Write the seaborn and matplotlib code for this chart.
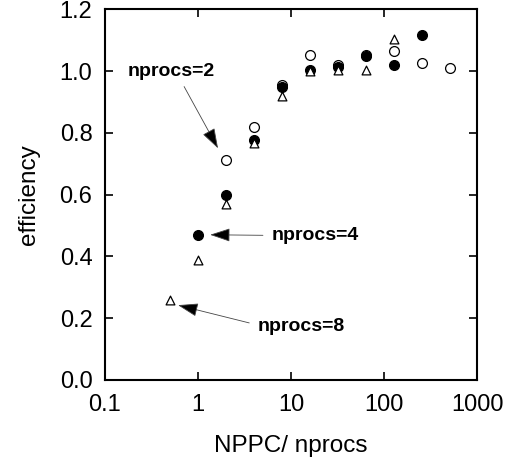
import pandas as pd
import seaborn as sns
import matplotlib
matplotlib.use("Agg")
import matplotlib.pyplot as plt
from matplotlib.ticker import FixedLocator, NullLocator, FixedFormatter

# data
x_np2 = [2, 4, 8, 16, 32, 64, 128, 256, 512]
y_np2 = [0.713, 0.82, 0.955, 1.052, 1.02, 1.052, 1.065, 1.027, 1.01]
x_np4 = [1, 2, 4, 8, 16, 32, 64, 128, 256]
y_np4 = [0.47, 0.60, 0.777, 0.948, 1.005, 1.015, 1.048, 1.021, 1.118]
x_np8 = [0.5, 1, 2, 4, 8, 16, 32, 64, 128]
y_np8 = [0.26, 0.387, 0.57, 0.768, 0.919, 1.0, 1.005, 1.003, 1.103]

x_ticks = [0.1, 1, 10, 100, 1000]
x_ticklabels = ["0.1", "1", "10", "100", "1000"]
y_ticks = [0.0, 0.2, 0.4, 0.6, 0.8, 1.0, 1.2]

sns.set_theme(style="ticks")
plt.rcParams['font.family'] = ['Liberation Sans', 'DejaVu Sans']
plt.rcParams.update({'text.color': 'black', 'axes.labelcolor': 'black',
                     'xtick.color': 'black', 'ytick.color': 'black'})

fig = plt.figure(figsize=(5.12, 4.69), dpi=100)
ax = fig.add_axes([0.205, 0.19, 0.727, 0.79])

series = [
    (x_np2, y_np2, 'o', 'white'),
    (x_np4, y_np4, 'o', 'black'),
    (x_np8, y_np8, '^', 'white'),
]
for xs, ys, mk, fc in series:
    d = pd.DataFrame({'x': xs, 'y': ys})
    sns.scatterplot(data=d, x='x', y='y', marker=mk, s=50 if mk == 'o' else 40,
                    facecolor=fc, edgecolor='black', linewidth=0.9, ax=ax, zorder=3)

ax.set_xscale('log')
ax.set_xlim(0.1, 1000)
ax.set_ylim(0, 1.2)
ax.xaxis.set_major_locator(FixedLocator(x_ticks))
ax.xaxis.set_major_formatter(FixedFormatter(x_ticklabels))
ax.xaxis.set_minor_locator(NullLocator())
ax.set_yticks(y_ticks)
ax.set_yticklabels([f"{v:.1f}" for v in y_ticks])

ax.tick_params(axis='both', which='major', direction='in', length=6, width=1.2,
               top=True, right=True, labelsize=17)
ax.tick_params(axis='x', pad=10)
ax.tick_params(axis='y', pad=9)
for sp in ax.spines.values():
    sp.set_visible(True)
    sp.set_linewidth(1.5)
    sp.set_color('black')

ax.set_xlabel("NPPC/ nprocs", fontsize=17.5, labelpad=14)
ax.set_ylabel("efficiency", fontsize=17.5, labelpad=14)

arrow = dict(arrowstyle='-|>,head_length=0.9,head_width=0.3', fc='black', ec='#444444',
             lw=0.6, mutation_scale=14)
ax.annotate("nprocs=2", xy=(1.64, 0.75), xytext=(0.177, 1.0),
            fontsize=14, fontweight='bold', ha='left', va='center',
            arrowprops=dict(arrow, relpos=(0.6, 0.0), shrinkA=3, shrinkB=0))
ax.annotate("nprocs=4", xy=(1.35, 0.47), xytext=(6.2, 0.468),
            fontsize=14, fontweight='bold', ha='left', va='center',
            arrowprops=dict(arrow, relpos=(0.0, 0.5), shrinkA=4, shrinkB=0))
ax.annotate("nprocs=8", xy=(0.61, 0.242), xytext=(4.4, 0.172),
            fontsize=14, fontweight='bold', ha='left', va='center',
            arrowprops=dict(arrow, relpos=(0.0, 0.6), shrinkA=4, shrinkB=0))

plt.savefig("out.png", dpi=100)
